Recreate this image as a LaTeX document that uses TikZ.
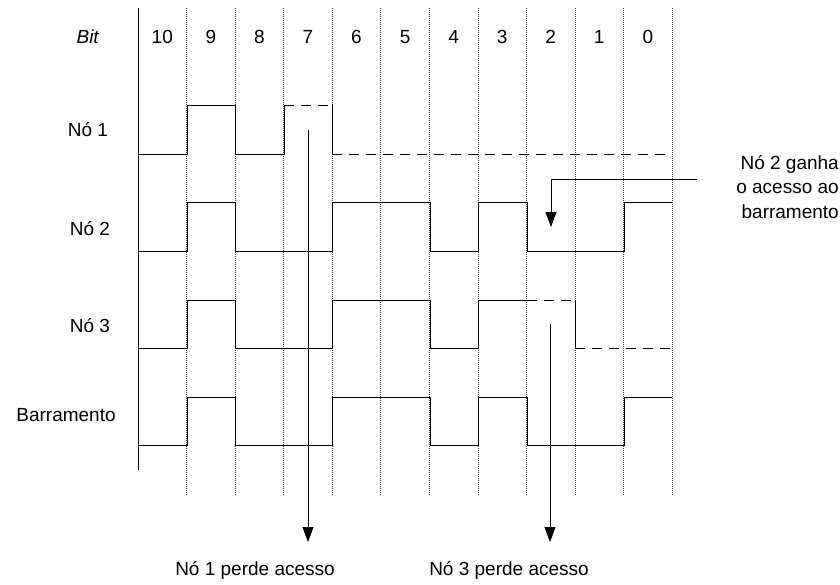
\documentclass[tikz,border=0pt]{standalone}
\usepackage{fontspec}
\setmainfont{Liberation Sans}
\usetikzlibrary{arrows.meta}

\tikzset{
  grade/.style={line width=0.6pt, black!75, dash pattern=on 1pt off 1pt},
  sinal/.style={line width=0.8pt},
  perdido/.style={line width=0.8pt, dash pattern=on 10pt off 7pt},
  seta/.style={line width=0.8pt, -{Triangle[width=11pt,length=15pt]}},
  rotulo/.style={font=\fontsize{19}{24.5}\selectfont, inner sep=0pt},
}

\begin{document}
\begin{tikzpicture}[x=1pt,y=-1pt]
    \useasboundingbox (0,0) rectangle (840,584);
    % grade dos bits
    \draw[sinal] (138,8) -- (138,470);
    \foreach \k in {1,...,11}
        \draw[grade] ({138+48.55*\k},8) -- ({138+48.55*\k},495);
    \node[rotulo] (bit) at (88,37) {\textit{Bit}};
    \foreach \b [count=\k from 0] in {10,9,...,0}
        \node[rotulo] (b\b) at ({162.3+48.55*\k},37) {\b};

    % rotulos das linhas
    \node[rotulo] (no1) at (88,130) {Nó 1};
    \node[rotulo] (no2) at (90,229) {Nó 2};
    \node[rotulo] (no3) at (90,326) {Nó 3};
    \node[rotulo] (barr) at (66,415) {Barramento};

    % no 1
    \draw[sinal] (138,154) -- (187,154) -- (187,105) -- (235,105) -- (235,154) -- (284,154) -- (284,105);
    \draw[perdido] (284,105) -- (332,105);
    \draw[sinal] (332,105) -- (332,154);
    \draw[perdido] (332,154) -- (672,154);

    % no 2
    \draw[sinal] (138,251) -- (187,251) -- (187,202) -- (235,202) -- (235,251) -- (332,251) -- (332,202)
        -- (430,202) -- (430,251) -- (478,251) -- (478,202) -- (527,202) -- (527,251) -- (624,251)
        -- (624,202) -- (672,202);

    % no 3
    \draw[sinal] (138,348) -- (187,348) -- (187,300) -- (235,300) -- (235,348) -- (332,348) -- (332,300)
        -- (430,300) -- (430,348) -- (478,348) -- (478,300) -- (527,300);
    \draw[perdido] (527,300) -- (575,300);
    \draw[sinal] (575,300) -- (575,348);
    \draw[perdido] (575,348) -- (672,348);

    % barramento
    \draw[sinal] (138,445) -- (187,445) -- (187,397) -- (235,397) -- (235,445) -- (332,445) -- (332,397)
        -- (430,397) -- (430,445) -- (478,445) -- (478,397) -- (527,397) -- (527,445) -- (624,445)
        -- (624,397) -- (672,397);

    % setas
    \coordinate (p1a) at (308,130);
    \coordinate (p1b) at (308,542);
    \coordinate (p3a) at (550,324);
    \coordinate (p3b) at (550,542);
    \coordinate (g2a) at (697,179);
    \coordinate (g2b) at (551,227);
    \draw[seta] (p1a) -- (p1b);
    \draw[seta] (p3a) -- (p3b);
    \draw[seta] (g2a) -| (g2b);
    \node[rotulo] (perde1) at (255,570) {Nó 1 perde acesso};
    \node[rotulo] (perde3) at (509,570) {Nó 3 perde acesso};
    \node[rotulo, align=right, anchor=east] (ganha2) at (839,187) {Nó 2 ganha\\o acesso ao\\barramento};
\end{tikzpicture}
\end{document}
